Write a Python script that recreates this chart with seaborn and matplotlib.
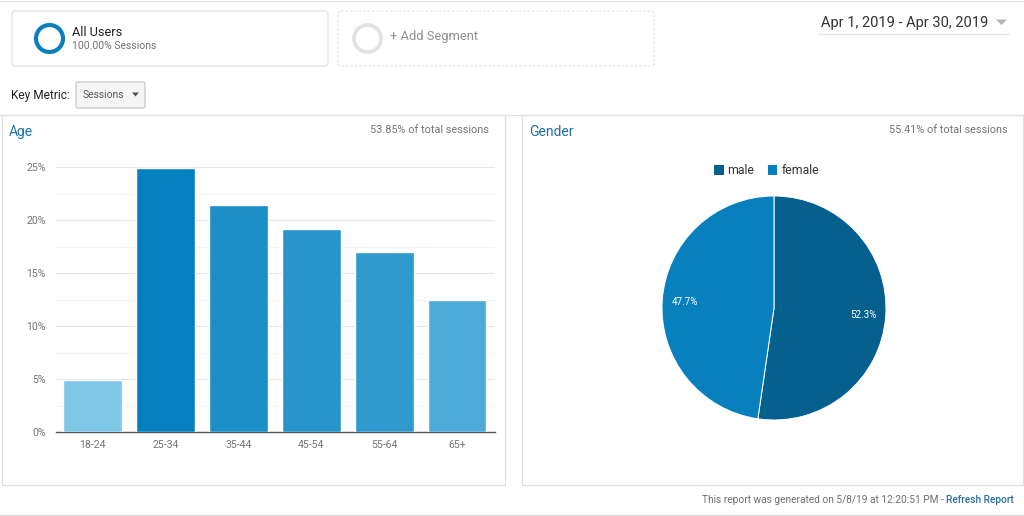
import matplotlib
matplotlib.use("Agg")
import matplotlib.pyplot as plt
from matplotlib.patches import FancyBboxPatch, Rectangle, Circle, Polygon
import seaborn as sns
import pandas as pd

age_groups = ["18-24", "25-34", "35-44", "45-54", "55-64", "65+"]
age_share = [4.86, 24.86, 21.4, 19.15, 16.95, 12.48]
age_colors = ["#7fc8e8", "#0681bf", "#1c8ec8", "#2794ca", "#309ace", "#4eaad8"]
y_ticks = [0, 5, 10, 15, 20, 25]
y_minor = [2.5, 7.5, 12.5, 17.5, 22.5]
genders = ["male", "female"]
gender_share = [52.3, 47.7]
gender_colors = ["#05608e", "#0880bd"]

sns.set_theme(style="white")
plt.rcParams["font.family"] = ["Roboto", "DejaVu Sans"]

W, H = 1024, 516
fig = plt.figure(figsize=(W / 100, H / 100), dpi=100, facecolor="white")

def axbox(x0, y0, x1, y1):
    return [x0 / W, 1 - y1 / H, (x1 - x0) / W, (y1 - y0) / H]

# page chrome in pixel coordinates
ui = fig.add_axes([0, 0, 1, 1], zorder=0)
ui.set_xlim(0, W); ui.set_ylim(H, 0); ui.axis("off")
BORDER = "#e0e0e0"
ui.plot([0, W], [0.8, 0.8], color="#e6e6e6", lw=0.9)
ui.plot([0, W], [515, 515], color="#dcdcdc", lw=0.9)
ui.add_patch(FancyBboxPatch((12, 11), 316, 55, boxstyle="round,pad=0,rounding_size=3", fc="white", ec=BORDER, lw=0.8))
ui.add_patch(FancyBboxPatch((338, 11), 316, 55, boxstyle="round,pad=0,rounding_size=3", fc="white", ec=BORDER, lw=0.8, ls=(0, (2, 2))))
ui.add_patch(Circle((49.5, 38.5), 13.5, fc="none", ec="#0a7fbb", lw=3))
ui.add_patch(Circle((367.5, 38.5), 13.5, fc="none", ec="#e2e2e2", lw=2.7))
ui.text(72.5, 32, "All Users", fontsize=9.2, color="#222222", va="center")
ui.text(72.5, 46, "100.00% Sessions", fontsize=7.5, color="#707070", va="center")
ui.text(390.5, 36.5, "+ Add Segment", fontsize=9.3, color="#8e8e8e", va="center")
ui.text(821, 22.5, "Apr 1, 2019 - Apr 30, 2019", fontsize=10.55, color="#333333", va="center")
ui.add_patch(Polygon([[996, 19.5], [1007, 19.5], [1001.5, 25]], fc="#b5b5b5", ec="none"))
ui.plot([818, 1009], [33.5, 33.5], color="#e6e6e6", lw=0.9)
ui.text(11, 95.5, "Key Metric:", fontsize=8.6, color="#222222", va="center")
ui.add_patch(FancyBboxPatch((76, 82), 69, 26, boxstyle="round,pad=0,rounding_size=2", fc="#f5f5f5", ec="#c8c8c8", lw=0.9))
ui.text(83, 95.5, "Sessions", fontsize=7.4, color="#555555", va="center")
ui.add_patch(Polygon([[132, 92.5], [139, 92.5], [135.5, 96.5]], fc="#555555", ec="none"))
ui.add_patch(Rectangle((2, 114.5), 502.5, 370, fc="white", ec=BORDER, lw=0.9))
ui.add_patch(Rectangle((522, 114.5), 500.5, 370, fc="white", ec=BORDER, lw=0.9))
ui.plot([0, W], [114.5, 114.5], color=BORDER, lw=0.9)
ui.text(9, 132, "Age", fontsize=10, color="#1f6fa5", va="center")
ui.text(488.5, 130, "53.85% of total sessions", fontsize=7.8, color="#757575", va="center", ha="right")
ui.text(529.5, 132, "Gender", fontsize=10, color="#1f6fa5", va="center")
ui.text(1007.5, 130, "55.41% of total sessions", fontsize=7.8, color="#757575", va="center", ha="right")
ui.text(1014, 500, "Refresh Report", fontsize=7.3, color="#2a6d9e", va="center", ha="right", fontweight="medium")
ui.text(946.5, 500, "This report was generated on 5/8/19 at 12:20:51 PM - ", fontsize=7.25, color="#6f6f6f", va="center", ha="right")

# bar chart
ax = fig.add_axes(axbox(56, 167, 495, 432), zorder=1)
ax.patch.set_alpha(0)
df = pd.DataFrame({"age": age_groups, "share": age_share})
sns.barplot(data=df, x="age", y="share", hue="age", palette=age_colors, legend=False,
            width=0.805, saturation=1, ax=ax, zorder=3)
ax.set_xlim(-0.5, 5.52)
ax.set_ylim(0, 25)
ax.set_xlabel(""); ax.set_ylabel("")
ax.set_yticks(y_ticks, [f"{v}%" for v in y_ticks])
ax.set_yticks(y_minor, minor=True)
ax.grid(False)
ax.grid(True, axis="y", which="major", color="#e6e6e6", lw=0.8, zorder=0)
ax.grid(True, axis="y", which="minor", color="#f4f4f4", lw=0.8, zorder=0)
ax.set_axisbelow(True)
for s in ["top", "right", "left"]:
    ax.spines[s].set_visible(False)
ax.spines["bottom"].set_color("#555555")
ax.spines["bottom"].set_linewidth(1)
ax.tick_params(axis="both", which="both", length=0, labelsize=7.6, labelcolor="#757575")
ax.tick_params(axis="x", pad=6)
ax.tick_params(axis="y", pad=7.5)

# pie chart
pax = fig.add_axes(axbox(662, 196, 886, 420), zorder=1)
wedges, _ = pax.pie(gender_share, colors=gender_colors, startangle=90, counterclock=False,
                    radius=1, wedgeprops={"edgecolor": "white", "linewidth": 0.7})
pax.set_xlim(-1, 1); pax.set_ylim(-1, 1)
pax.text(0.80, -0.06, f"{gender_share[0]}%", color="white", fontsize=7, ha="center", va="center")
pax.text(-0.80, 0.05, f"{gender_share[1]}%", color="white", fontsize=7, ha="center", va="center")

# legend
ui.add_patch(Rectangle((714, 165), 9.5, 9.5, fc=gender_colors[0], ec="none"))
ui.text(727.5, 170.5, genders[0], fontsize=8.8, color="#333333", va="center")
ui.add_patch(Rectangle((767.5, 165), 9.5, 9.5, fc=gender_colors[1], ec="none"))
ui.text(781.5, 170.5, genders[1], fontsize=8.8, color="#333333", va="center")

fig.savefig("out.png", dpi=100)
